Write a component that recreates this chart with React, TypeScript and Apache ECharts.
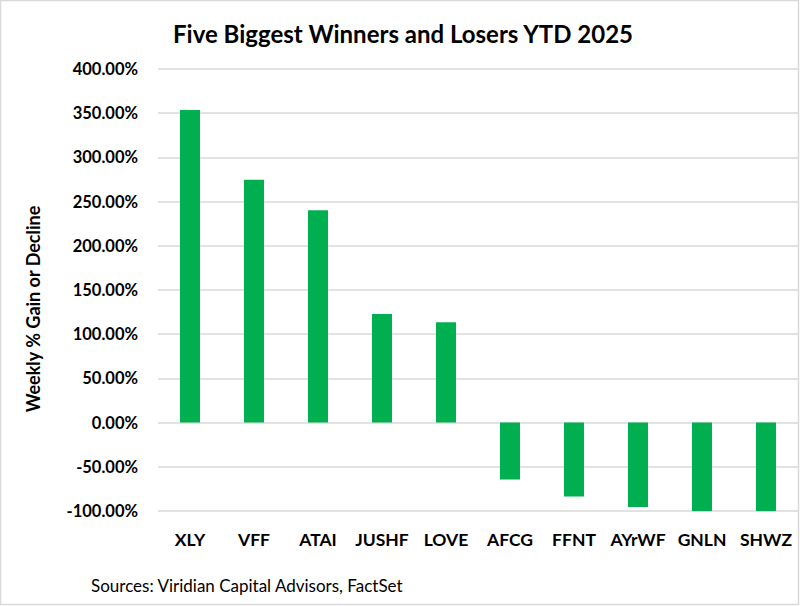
import React, { useEffect, useRef } from "react";
import * as echarts from "echarts";

const categories = ["XLY", "VFF", "ATAI", "JUSHF", "LOVE", "AFCG", "FFNT", "AYrWF", "GNLN", "SHWZ"];
const values = [353.6, 274.6, 240.3, 122.9, 113.5, -64.3, -83.6, -95.4, -100, -100];

const titleText = "Five Biggest Winners and Losers YTD 2025";
const yAxisName = "Weekly % Gain or Decline";
const sourceText = "Sources: Viridian Capital Advisors, FactSet";

const FONT = "Lato, 'Open Sans', sans-serif";

export default function App() {
  const ref = useRef<HTMLDivElement>(null);
  useEffect(() => {
    if (!ref.current) return;
    const chart = echarts.init(ref.current, null, { renderer: "svg" });
    chart.setOption({
      animation: false,
      backgroundColor: "#ffffff",
      title: {
        text: titleText,
        left: 398,
        textAlign: "center",
        top: 16,
        textStyle: { fontFamily: FONT, fontSize: 24, fontWeight: "bold", color: "#000" },
      },
      grid: { left: 158, right: 2, top: 69, bottom: 95, containLabel: false },
      xAxis: {
        type: "category",
        data: categories,
        axisLine: { show: false },
        axisTick: { show: false },
        axisLabel: {
          margin: 19,
          fontFamily: FONT,
          fontSize: 17.5,
          fontWeight: "bold",
          color: "#000",
          interval: 0,
        },
      },
      yAxis: {
        type: "value",
        min: -100,
        max: 400,
        interval: 50,
        axisLine: { show: false },
        axisTick: { show: false },
        splitLine: { lineStyle: { color: "#d9d9d9", width: 1.5 } },
        axisLabel: {
          margin: 20,
          fontFamily: FONT,
          fontSize: 16.5,
          fontWeight: "bold",
          color: "#000",
          formatter: (v: number) => v.toFixed(2) + "%",
        },
      },
      series: [
        {
          type: "bar",
          data: values,
          barWidth: 20,
          itemStyle: { color: "#00b050" },
        },
      ],
      graphic: [
        {
          type: "rect",
          shape: { x: 0.5, y: 0.5, width: 798, height: 604 },
          style: { fill: "none", stroke: "#d9d9d9", lineWidth: 1.5 },
          silent: true,
        },
        {
          type: "text",
          x: 33,
          y: 309,
          rotation: Math.PI / 2,
          style: {
            text: yAxisName,
            fontFamily: FONT,
            fontSize: 18,
            fontWeight: "bold",
            fill: "#000",
            align: "center",
            verticalAlign: "middle",
          },
        },
        {
          type: "text",
          left: 91,
          top: 577,
          style: { text: sourceText, fontFamily: FONT, fontSize: 17, fill: "#000" },
        },
      ],
    });
    return () => chart.dispose();
  }, []);
  return (
    <div
      ref={ref}
      style={{ position: "absolute", left: 0, top: 0, width: 800, height: 606 }}
    />
  );
}
